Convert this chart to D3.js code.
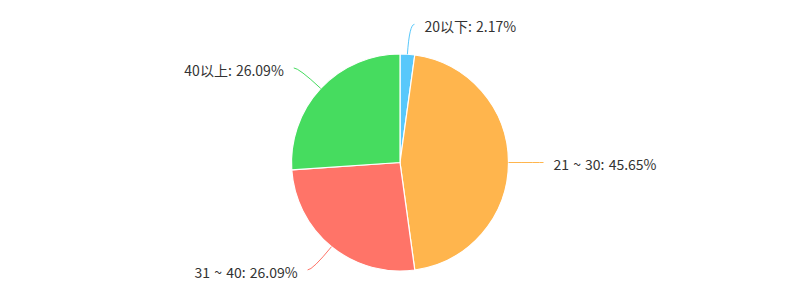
<!DOCTYPE html>
<html><head><meta charset="utf-8">
<script src="https://cdn.jsdelivr.net/npm/d3@7"></script>
<style>html,body{margin:0;padding:0;background:#fff;}</style>
</head><body>
<svg id="chart" width="800" height="300"></svg>
<script>
const categories = ["20以下", "21 ~ 30", "31 ~ 40", "40以上"];
const values = [1, 21, 12, 12];
const colors = ["#58c8fb", "#ffb54d", "#ff7468", "#46dc5f"];

const W = 800, H = 300, cx = 400, cy = 162.5, R = 108.5;
const len1 = 30, len2 = 5, gap = 10;
const total = d3.sum(values);
const svg = d3.select("#chart");
const g = svg.append("g").attr("transform", `translate(${cx},${cy})`);
const pie = d3.pie().sort(null).value(d => d.v);
const data = pie(categories.map((c, i) => ({c, v: values[i], col: colors[i]})));
const arc = d3.arc().innerRadius(0).outerRadius(R);

g.selectAll("path.slice").data(data).enter().append("path")
  .attr("class", "slice")
  .attr("d", arc)
  .attr("fill", d => d.data.col)
  .attr("stroke", "#fff").attr("stroke-width", 1.2).attr("stroke-linejoin", "round");

data.forEach(d => {
  const a = (d.startAngle + d.endAngle) / 2;
  const sx = Math.sin(a), sy = -Math.cos(a);
  const p0 = [sx * R, sy * R];
  const p1 = [sx * (R + len1), sy * (R + len1)];
  const dir = sx >= 0 ? 1 : -1;
  const p2 = [p1[0] + dir * len2, p1[1]];
  g.append("path")
    .attr("d", `M${p0[0]},${p0[1]} Q${p1[0]},${p1[1]} ${p2[0]},${p2[1]}`)
    .attr("fill", "none").attr("stroke", d.data.col).attr("stroke-width", 1);
  const pct = (d.data.v / total * 100).toFixed(2);
  g.append("text")
    .attr("x", p2[0] + dir * gap).attr("y", p2[1] + 3)
    .attr("dy", "0.35em")
    .attr("text-anchor", dir > 0 ? "start" : "end")
    .attr("font-family", "'Microsoft YaHei','Noto Sans CJK SC','Noto Sans',sans-serif")
    .attr("font-size", 14)
    .attr("fill", "#333")
    .attr("style", "word-spacing:1px")
    .text(`${d.data.c}: ${pct}%`);
});
</script>
</body></html>
